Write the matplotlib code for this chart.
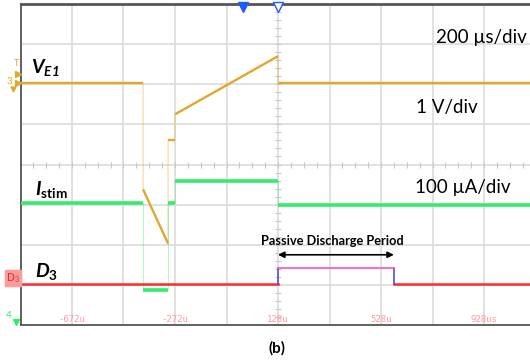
import numpy as np
import matplotlib.pyplot as plt

plt.rcParams['font.family'] = ['Lato', 'DejaVu Sans']
plt.rcParams['mathtext.fontset'] = 'custom'
plt.rcParams['mathtext.rm'] = 'Lato'
plt.rcParams['mathtext.it'] = 'Lato:italic'
plt.rcParams['mathtext.bf'] = 'Lato:bold'
plt.rcParams['mathtext.bfit'] = 'Lato:bold:italic'

# time in us, amplitude in screen divisions (0 = bottom, 8 = top)
ve1_t = [-872, -396, -396, -299, -299, -272, -272, 128, 128, 1110]
ve1_v = [6.03, 6.03, 3.38, 2.03, 4.60, 4.60, 5.25, 6.70, 6.03, 6.03]

istim_t = [-872, -396, -396, -299, -299, -272, -272, 128, 128, 1110]
istim_v = [3.05, 3.05, 0.87, 0.87, 3.05, 3.05, 3.58, 3.58, 3.00, 3.00]

d3_t = [-872, 128, 128, 578, 578, 1110]
d3_v = [1.03, 1.03, 1.42, 1.42, 1.03, 1.03]

time_labels = ["-672u", "-272u", "128u", "528u", "928us"]
time_label_pos = [-672, -272, 128, 528, 928]

gold = "#e0a82e"
green = "#33ec6c"

W, H = 530, 360
fig = plt.figure(figsize=(5.3, 3.6), dpi=100)
ax = fig.add_axes([20.5 / W, 35 / H, 515 / W, 321 / H])
ax.set_xlim(-872, 1128)
ax.set_ylim(0, 8)

# scope grid
for x in np.arange(-872, 1129, 200):
    ax.axvline(x, color="#dcdcdc", lw=1.2, zorder=0)
for y in range(1, 8):
    ax.axhline(y, color="#dcdcdc", lw=1.2, zorder=0)
ax.plot(np.arange(-872, 1128, 50), [4] * 40, ls="", marker="|", ms=4, color="#c8c8c8", mew=0.8)
ax.plot([128] * 40, np.arange(0, 8, 0.2), ls="", marker="_", ms=4, color="#c8c8c8", mew=0.8)

ax.set_xticks([])
ax.set_yticks([])
for side in ["left", "top", "bottom"]:
    ax.spines[side].set_color("#555555")
ax.spines["left"].set_linewidth(1.3)
ax.spines["bottom"].set_linewidth(1.3)
ax.spines["top"].set_linewidth(2.0)
ax.spines["right"].set_visible(False)


def solid(t, v, color, lw):
    # steady parts of a trace; fast edges stay faint
    for i in range(0, len(t) - 1, 2):
        ax.plot(t[i:i + 2], v[i:i + 2], color=color, lw=lw, solid_capstyle="butt", zorder=3)


ax.plot(ve1_t, ve1_v, color=gold, lw=0.8, alpha=0.45, zorder=2)
solid(ve1_t, ve1_v, gold, 1.7)

ax.plot(istim_t, istim_v, color=green, lw=0.8, alpha=0.35, zorder=2)
solid(istim_t, istim_v, green, 2.6)

ax.plot(d3_t[0:2], d3_v[0:2], color="#ff2a2a", lw=1.8, zorder=3)
ax.plot(d3_t[4:6], d3_v[4:6], color="#ff2a2a", lw=1.8, zorder=3)
ax.plot(d3_t[1:3], d3_v[1:3], color="#5050d8", lw=1.2, zorder=3)
ax.plot(d3_t[3:5], d3_v[3:5], color="#5050d8", lw=1.2, zorder=3)
ax.plot(d3_t[2:4], d3_v[2:4], color="#ff4fc8", lw=1.2, zorder=3)

ax.annotate("", xy=(d3_t[3], 1.75), xytext=(d3_t[1], 1.75),
            arrowprops=dict(arrowstyle="<|-|>", color="black", lw=1.2,
                            mutation_scale=9, shrinkA=0, shrinkB=0))
ax.text(338, 2.1, "Passive Discharge Period", ha="center", va="center",
        fontsize=9.2, fontweight="bold")

for x, s in zip(time_label_pos, time_labels):
    ax.text(x, 0.03, s, ha="center", va="bottom", fontsize=6.5,
            family="DejaVu Sans Mono", color="#ff9a9a")


def fx(px):
    return px / W


def fy(py):
    return 1 - py / H


# channel labels
fig.text(fx(31), fy(68), r"$\mathbfit{V}_{\mathbfit{E1}}$", fontsize=14, va="center")
fig.text(fx(35), fy(189), r"$\mathbfit{I}_{\mathbf{stim}}$", fontsize=14, va="center")
fig.text(fx(35), fy(272), r"$\mathbfit{D}_{\mathbf{3}}$", fontsize=14, va="center")

fig.text(fx(481), fy(38), "200 µs/div", fontsize=13.5, ha="center", va="center")
fig.text(fx(447), fy(107), "1 V/div", fontsize=13.5, ha="center", va="center")
fig.text(fx(463), fy(187), "100 µA/div", fontsize=13.5, ha="center", va="center")
fig.text(fx(277), fy(348), "(b)", fontsize=11, fontweight="bold", ha="center", va="center")

# scope channel markers on the left edge
fig.text(fx(16), fy(63), "T", fontsize=6.5, color=gold, ha="center", va="center")
fig.text(fx(9.5), fy(82), "3", fontsize=7, color=gold, ha="center", va="center")
fig.lines.append(plt.Line2D([fx(17.5)], [fy(74)], marker=">", ms=4, color=gold, ls="",
                            transform=fig.transFigure))
fig.lines.append(plt.Line2D([fx(17.5)], [fy(83)], marker=">", ms=4, color=gold, ls="",
                            transform=fig.transFigure))
fig.lines.append(plt.Line2D([fx(13)], [fy(89)], marker="v", ms=3.5, color=gold, ls="",
                            transform=fig.transFigure))
fig.text(fx(12.8), fy(278), r"D$_3$", fontsize=7.5, color="#e03030", ha="center", va="center",
         family="DejaVu Sans",
         bbox=dict(boxstyle="square,pad=0.12", fc="#ff9a9a", ec="#ff9a9a"))
fig.text(fx(9), fy(315), "4", fontsize=7, color=green, ha="center", va="center")
fig.lines.append(plt.Line2D([fx(16)], [fy(322)], marker="v", ms=4, color=green, ls="",
                            transform=fig.transFigure))

# trigger markers on top edge
fig.lines.append(plt.Line2D([fx(243)], [fy(7)], marker="v", ms=7, color="#1f5cff", ls="",
                            transform=fig.transFigure))
fig.lines.append(plt.Line2D([fx(277.5)], [fy(7)], marker="v", ms=7, mfc="white", mec="#1f5cff",
                            mew=1.0, ls="", transform=fig.transFigure))

fig.savefig("out.png", dpi=100)
